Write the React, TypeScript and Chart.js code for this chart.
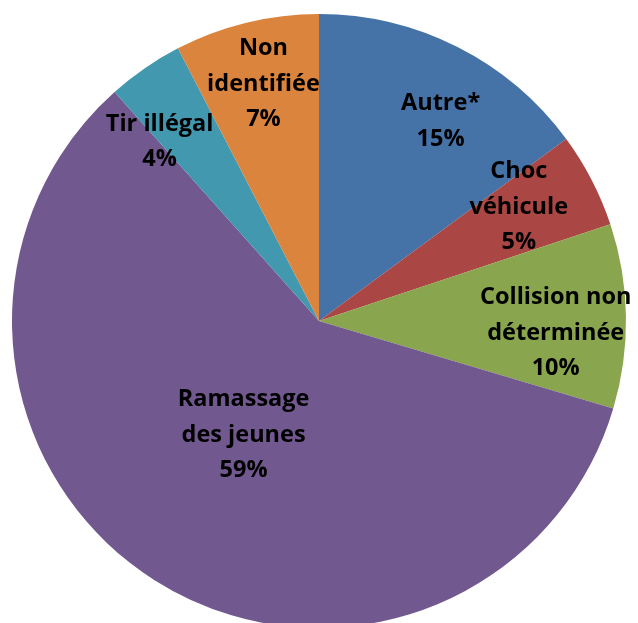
import React, { useEffect, useRef } from "react";
import { Chart, registerables } from "chart.js";

Chart.register(...registerables);

const categories = ["Autre*", "Choc\nvéhicule", "Collision non\ndéterminée", "Ramassage\ndes jeunes", "Tir illégal", "Non\nidentifiée"];
const values = [14.9, 5.0, 9.7, 58.8, 4.0, 7.6];
const percentLabels = ["15%", "5%", "10%", "59%", "4%", "7%"];
const colors = ["#4572A7", "#AA4643", "#89A54E", "#71588F", "#4198AF", "#DB843D"];

// label placement styling (fraction of radius, angle shift in degrees)
const labelRadius = [0.762, 0.749, 0.772, 0.445, 0.781, 0.793];
const labelShift = [4.5, -2.3, 3.8, 1.1, -7.1, 0.5];

const FONT = "bold 23.5px 'Open Sans'";
const LINE_H = 35.5;

const labelPlugin = {
  id: "sliceLabels",
  afterDatasetsDraw(chart: any) {
    const ctx = chart.ctx;
    const meta = chart.getDatasetMeta(0);
    ctx.save();
    ctx.font = FONT;
    ctx.fillStyle = "#000";
    ctx.textAlign = "center";
    ctx.textBaseline = "middle";
    meta.data.forEach((arc: any, i: number) => {
      const p = arc.getProps(["x", "y", "startAngle", "endAngle", "outerRadius"], true);
      const mid = (p.startAngle + p.endAngle) / 2 + (labelShift[i] * Math.PI) / 180;
      const r = p.outerRadius * labelRadius[i];
      const cx = p.x + Math.cos(mid) * r;
      const cy = p.y + Math.sin(mid) * r;
      const lines = [...categories[i].split("\n"), percentLabels[i]];
      const top = cy - ((lines.length - 1) * LINE_H) / 2;
      lines.forEach((t, k) => ctx.fillText(t, cx, top + k * LINE_H));
    });
    ctx.restore();
  },
};

export default function App() {
  const ref = useRef<HTMLCanvasElement | null>(null);
  useEffect(() => {
    if (!ref.current) return;
    const chart = new Chart(ref.current, {
      type: "pie",
      data: {
        labels: categories,
        datasets: [
          {
            data: values,
            backgroundColor: colors,
            borderWidth: 0,
          },
        ],
      },
      options: {
        animation: false,
        responsive: false,
        maintainAspectRatio: false,
        layout: { padding: { left: 12, right: 12, top: 14, bottom: 14 } },
        plugins: {
          legend: { display: false },
          tooltip: { enabled: false },
        },
      },
      plugins: [labelPlugin],
    });
    return () => chart.destroy();
  }, []);
  return (
    <div style={{ position: "fixed", left: 0, top: 0, width: 638, height: 623, overflow: "hidden", background: "#fff" }}>
      <canvas ref={ref} width={638} height={642} style={{ display: "block", width: 638, height: 642 }} />
    </div>
  );
}
